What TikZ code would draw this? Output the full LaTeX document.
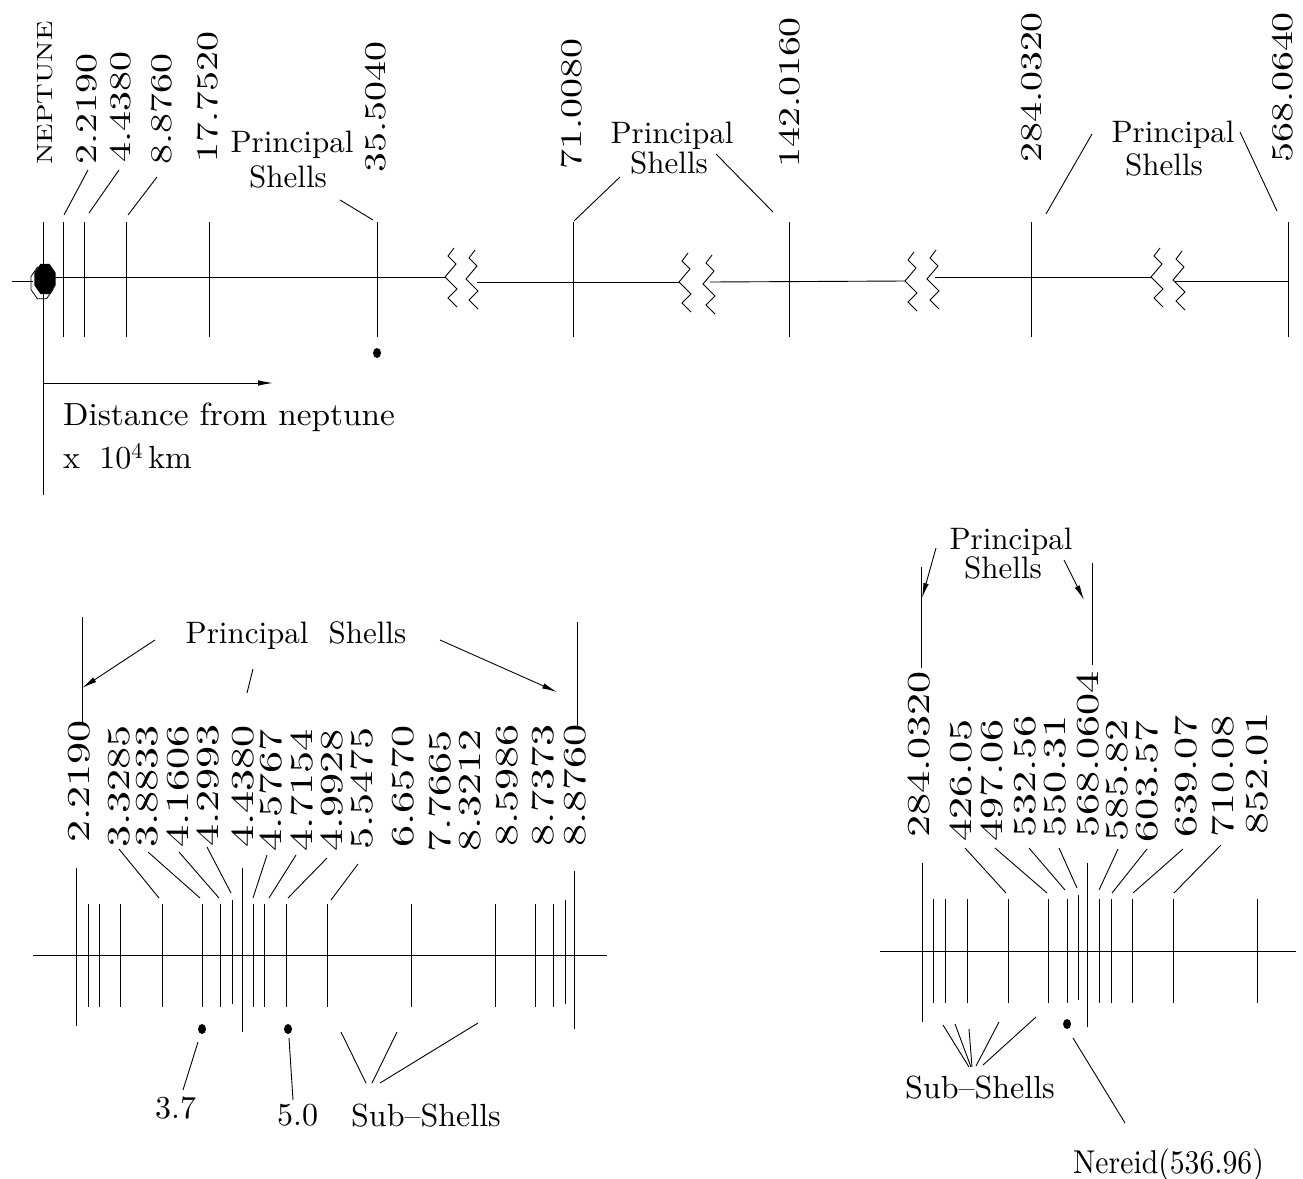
\documentclass[tikz,border=0pt]{standalone}
\usepackage{fontspec}
\setmainfont{lmroman10-regular.otf}
\usetikzlibrary{arrows.meta}
% horizontally stretched text
\newcommand{\widen}[2]{\scalebox{#1}[1]{#2}}
\begin{document}
\begin{tikzpicture}[x=1pt,y=-1pt,
  ln/.style={line width=0.9pt},
  numT/.style={rotate=90, anchor=west, inner sep=0pt, text height=19.5pt, text depth=0pt,
               font=\fontsize{30}{30}\selectfont},
  numB/.style={rotate=90, anchor=west, inner sep=0pt, text height=20.8pt, text depth=0pt,
               font=\fontsize{32}{32}\selectfont},
  txt/.style={inner sep=0pt, anchor=base, font=\fontsize{31}{31}\selectfont},
  txtw/.style={inner sep=0pt, anchor=base west, font=\fontsize{32}{32}\selectfont},
  arr/.style={ln, -{Latex[length=15pt,width=5.5pt]}},
  moon/.style={fill=black},
  brk/.pic={\draw[ln] (3,-29) -- (-3,-21) -- (5,-13) -- (-6,0) -- (6,12) -- (-3,21) -- (6,30);}
]
\useasboundingbox (0,0) rectangle (1303,1178);
\fill[white] (0,0) rectangle (1303,1178);

%%%%%%%%%%%%%%%% upper scale: distances out to 568 %%%%%%%%%%%%%%%%
% axis pieces between the breaks
\draw[ln] (12,281) -- (33,281);
\draw[ln] (43,277) -- (445,277);
\draw[ln] (477,282) -- (679,282);
\draw[ln] (710,282) -- (905,281);
\draw[ln] (935,277) -- (1151,277);
\draw[ln] (1175,281) -- (1288,281);
% axis breaks
\pic at (451,277) {brk};  \pic at (472,279) {brk};
\pic at (685,282) {brk};  \pic at (709,284) {brk};
\pic at (911,281) {brk};  \pic at (933,279) {brk};
\pic at (1157,277) {brk}; \pic at (1179,280) {brk};

% planet
\draw[line width=0.8pt, shift={(42,283)}, xscale=12, yscale=17]
  (22.5:1) -- (67.5:1) -- (112.5:1) -- (157.5:1) -- (202.5:1) -- (247.5:1) -- (292.5:1) -- (337.5:1) -- cycle;
\fill[black, shift={(45,279)}, xscale=11.5, yscale=16.5]
  (22.5:1) -- (67.5:1) -- (112.5:1) -- (157.5:1) -- (202.5:1) -- (247.5:1) -- (292.5:1) -- (337.5:1) -- cycle;
\draw[ln] (43,222) -- (43,495);

% shell positions
\foreach \x in {63,84,126,209,377,573,789,1031,1288}
  \draw[ln] (\x,222) -- (\x,337);

% labels
\node[numT, text height=15pt, font=\fontsize{22}{22}\selectfont] (nep) at (45,165) {\widen{1.3}{NEPTUNE}};
\foreach \t/\x/\y [count=\i] in {2.2190/87/165, 4.4380/121/163, 8.8760/162/165, 17.7520/208/163,
    35.5040/376/173, 71.0080/572/170, 142.0160/790/168, 284.0320/1032/163, 568.0640/1283/163}
  \node[numT] (tl\i) at (\x,\y) {\widen{1.33}{\t}};

\foreach \n/\sx/\sy/\ex/\ey in {a/88/170/64/215, b/119/170/89/213, c/157/177/128/215,
    d/340/200/373/220, e/620/177/574/221, f/716/154/773/212, g/1092/134/1046/214, h/1240/132/1277/211}{
  \coordinate (ts\n) at (\sx,\sy);
  \coordinate (te\n) at (\ex,\ey);
  \draw[ln] (ts\n) -- (te\n);
}

\node[txt] (psA1) at (292,152) {Principal};
\node[txt] (psA2) at (288,187) {Shells};
\node[txt] (psB1) at (672,143) {Principal};
\node[txt] (psB2) at (669,173) {Shells};
\node[txt] (psC1) at (1173,142) {Principal};
\node[txt] (psC2) at (1164,175) {Shells};

% moon
\fill[moon] (377,353) ellipse [x radius=4, y radius=5];

% distance arrow
\coordinate (dA) at (43,383);
\coordinate (dB) at (273,383);
\draw[arr] (dA) -- (dB);
\node[txtw] (dist) at (63,425) {\widen{1.04}{Distance from neptune}};
\node[txtw] (unit) at (63,468) {x\hspace{0.6em}10\textsuperscript{4}\,km};

%%%%%%%%%%%%%%%% lower left: 2.2190 to 8.8760 %%%%%%%%%%%%%%%%
\draw[ln] (33,955) -- (607,955);
\foreach \x/\t/\b in {76/868/1026, 88/904/1007, 99/904/1007, 120/904/1007, 162/904/1007,
    202/904/1007, 220/904/1007, 232/900/1004, 242/868/1032, 253/904/1007, 264/904/1007,
    286/904/1007, 327/904/1007, 411/904/1007, 495/904/1007, 535/904/1007, 553/904/1007,
    565/900/1004, 574/871/1029}
  \draw[ln] (\x,\t) -- (\x,\b);

\foreach \t/\x/\y [count=\i] in {2.2190/79/843, 3.3285/119/848, 3.8833/147/848, 4.1606/178/848,
    4.2993/208/847, 4.4380/243/848, 4.5767/271/852, 4.7154/302/852, 4.9928/332/852,
    5.5475/362/850, 6.6570/403/848, 7.7665/440/853, 8.3212/470/852, 8.5986/507/847,
    8.7373/543/847, 8.8760/575/847}
  \node[numB] (bl\i) at (\x,\y) {\widen{1.38}{\t}};

\foreach \n/\sx/\sy/\ex/\ey in {a/119/849/159/898, b/148/852/200/898, c/179/852/219/898,
    d/207/847/231/893, e/267/855/253/898, f/296/855/269/898, g/327/858/288/898, h/358/864/331/900}{
  \coordinate (ls\n) at (\sx,\sy);
  \coordinate (le\n) at (\ex,\ey);
  \draw[ln] (ls\n) -- (le\n);
}

\node[txt] (psD) at (296,643) {Principal\hspace{20pt}Shells};
\coordinate (pL1) at (82,617);  \coordinate (pL2) at (82,722);
\coordinate (pR1) at (577,622); \coordinate (pR2) at (577,727);
\draw[ln] (pL1) -- (pL2);
\draw[ln] (pR1) -- (pR2);
\coordinate (aL) at (155,640); \coordinate (aLe) at (82,688);
\coordinate (aR) at (440,640); \coordinate (aRe) at (557,692);
\draw[arr] (aL) -- (aLe);
\draw[arr] (aR) -- (aRe);
\coordinate (mA) at (253,669); \coordinate (mB) at (247,693);
\draw[ln] (mA) -- (mB);

% satellites at 3.7 and 5.0
\fill[moon] (202,1029) ellipse [x radius=4, y radius=5];
\fill[moon] (288,1029) ellipse [x radius=4, y radius=5];
\coordinate (s37a) at (198,1042); \coordinate (s37b) at (183,1090);
\coordinate (s50a) at (289,1038); \coordinate (s50b) at (293,1100);
\draw[ln] (s37a) -- (s37b);
\draw[ln] (s50a) -- (s50b);
\node[txtw] (v37) at (155,1118) {3.7};
\node[txtw] (v50) at (277,1125) {5.0};

\node[txtw] (subL) at (351,1126) {Sub--Shells};
\foreach \n/\sx/\sy/\ex/\ey in {a/341/1032/366/1083, b/397/1032/372/1083, c/478/1023/380/1083}{
  \coordinate (us\n) at (\sx,\sy);
  \coordinate (ue\n) at (\ex,\ey);
  \draw[ln] (us\n) -- (ue\n);
}

%%%%%%%%%%%%%%%% lower right: 284.0320 to 852.01 %%%%%%%%%%%%%%%%
\draw[ln] (880,951) -- (1296,951);
\foreach \x/\t/\b in {922/863/1022, 933/899/1003, 945/899/1003, 967/899/1003, 1008/899/1003,
    1048/899/1003, 1067/899/1003, 1078/895/1000, 1087/863/1027, 1099/899/1003, 1111/899/1003,
    1132/899/1003, 1173/899/1003, 1257/899/1003}
  \draw[ln] (\x,\t) -- (\x,\b);

\foreach \t/\x/\y [count=\i] in {284.0320/919/838, 426.05/961/842, 497.06/992/842, 532.56/1025/838,
    550.31/1055/838, 568.0604/1088/838, 585.82/1117/842, 603.57/1147/843, 639.07/1186/838,
    710.08/1223/838, 852.01/1257/835}
  \node[numB] (br\i) at (\x,\y) {\widen{1.38}{\t}};

\foreach \n/\sx/\sy/\ex/\ey in {a/965/848/1006/893, b/995/848/1047/893, c/1029/848/1065/890,
    d/1059/848/1077/888, e/1118/849/1099/890, f/1147/849/1112/893, g/1183/849/1133/893,
    h/1221/845/1174/893}{
  \coordinate (rs\n) at (\sx,\sy);
  \coordinate (re\n) at (\ex,\ey);
  \draw[ln] (rs\n) -- (re\n);
}

\node[txt] (psE1) at (1011,549) {Principal};
\node[txt] (psE2) at (1003,578) {Shells};
\coordinate (qL1) at (921,567);  \coordinate (qL2) at (921,668);
\coordinate (qR1) at (1092,563); \coordinate (qR2) at (1092,665);
\draw[ln] (qL1) -- (qL2);
\draw[ln] (qR1) -- (qR2);
\coordinate (bL) at (936,548);  \coordinate (bLe) at (922,598);
\coordinate (bR) at (1064,560); \coordinate (bRe) at (1084,600);
\draw[arr] (bL) -- (bLe);
\draw[arr] (bR) -- (bRe);

\node[txtw] (subR) at (905,1098) {Sub--Shells};
\foreach \n/\sx/\sy/\ex/\ey in {a/943/1025/969/1067, b/955/1024/971/1067, c/969/1029/972/1067,
    d/999/1022/976/1066, e/1036/1017/983/1065}{
  \coordinate (ws\n) at (\sx,\sy);
  \coordinate (we\n) at (\ex,\ey);
  \draw[ln] (ws\n) -- (we\n);
}

% Nereid
\fill[moon] (1067,1024) ellipse [x radius=4, y radius=5];
\coordinate (nA) at (1073,1038); \coordinate (nB) at (1125,1123);
\draw[ln] (nA) -- (nB);
\node[txtw, font=\fontsize{33}{33}\selectfont] (ner) at (1073,1173) {\widen{0.9}{Nereid(536.96)}};
\end{tikzpicture}
\end{document}
